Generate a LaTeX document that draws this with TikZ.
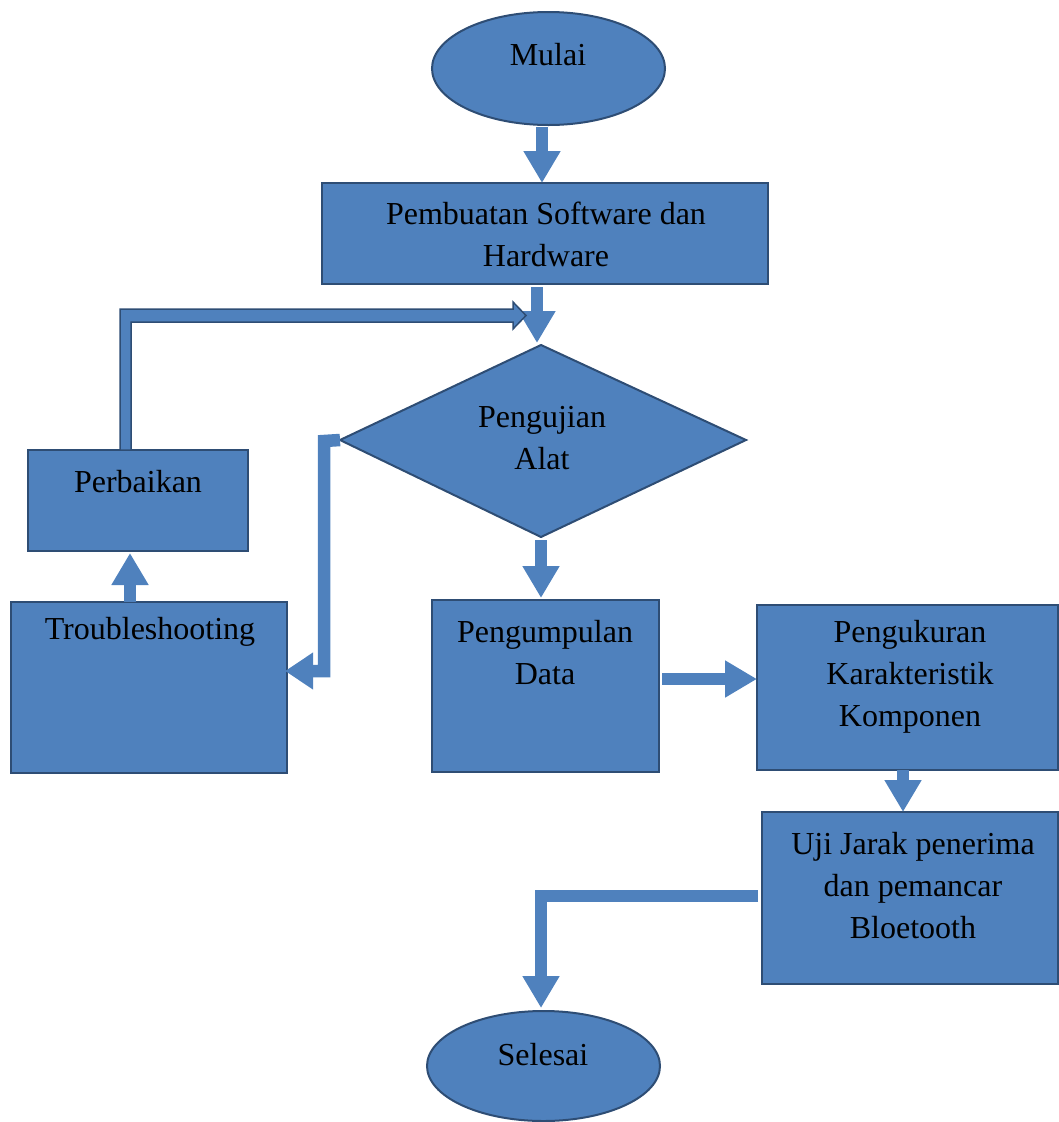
\documentclass[tikz,border=0pt]{standalone}
\usepackage{fontspec}
\setmainfont{Liberation Serif}
\usetikzlibrary{arrows.meta,shapes.geometric}
\definecolor{fillblue}{HTML}{4F81BD}
\definecolor{edgeblue}{HTML}{2E4D74}
\begin{document}
\begin{tikzpicture}[x=1pt,y=-1pt,
  shapebox/.style={draw=edgeblue,fill=fillblue,line width=2pt,rectangle,inner sep=0pt},
  shapeell/.style={draw=edgeblue,fill=fillblue,line width=2pt,ellipse,inner sep=0pt},
  lbl/.style={font=\fontsize{32}{42}\selectfont,align=center,inner sep=0pt,text=black},
  blk/.style={draw=fillblue,line width=12.5pt,line cap=butt,line join=miter,
    -{Triangle[width=35pt,length=32pt]}}]
\useasboundingbox (0,0) rectangle (1059,1122);
% shapes
\node[shapeell,minimum width=233pt,minimum height=113pt] (mulai) at (548.5,68.5) {};
\node[shapebox,minimum width=446pt,minimum height=101pt] (pemb) at (545,233.5) {};
\coordinate (dtop) at (541,345);
\coordinate (dright) at (746,440);
\coordinate (dbottom) at (541,537);
\coordinate (dleft) at (340,440);
\draw[draw=edgeblue,fill=fillblue,line width=2pt,line join=miter] (dtop) -- (dright) -- (dbottom) -- (dleft) -- cycle;
\node[shapebox,minimum width=220pt,minimum height=101pt] (perb) at (138,500.5) {};
\node[shapebox,minimum width=276pt,minimum height=171pt] (trouble) at (149,687.5) {};
\node[shapebox,minimum width=227pt,minimum height=172pt] (data) at (545.5,686) {};
\node[shapebox,minimum width=301pt,minimum height=165pt] (ukur) at (907.5,687.5) {};
\node[shapebox,minimum width=296pt,minimum height=172pt] (uji) at (910,898) {};
\node[shapeell,minimum width=233pt,minimum height=110pt] (selesai) at (543.5,1066) {};
% labels
\node[lbl] (tmulai) at (548,55) {Mulai};
\node[lbl] (tpemb) at (546,234) {Pembuatan Software dan\\Hardware};
\node[lbl] (tuji1) at (542,438) {Pengujian\\Alat};
\node[lbl] (tperb) at (138,482) {Perbaikan};
\node[lbl] (ttrouble) at (150,632) {Troubleshooting};
\node[lbl] (tdata) at (545,653) {Pengumpulan\\Data};
\node[lbl] (tukur) at (910,677) {Pengukuran\\Karakteristik\\Komponen};
\node[lbl] (tuji) at (913,886) {Uji Jarak penerima\\dan pemancar\\Bloetooth};
\node[lbl] (tsel) at (543,1055) {Selesai};
% connectors
\coordinate (a1s) at (542,127);
\coordinate (a1e) at (542,183);
\draw[blk] (a1s) -- (a1e);
\coordinate (a2s) at (537,287);
\coordinate (a2e) at (537,343);
\draw[blk] (a2s) -- (a2e);
\coordinate (a3s) at (541,540);
\coordinate (a3e) at (541,598);
\draw[blk] (a3s) -- (a3e);
\coordinate (a4s) at (662,679);
\coordinate (a4e) at (757,679);
\draw[blk] (a4s) -- (a4e);
\coordinate (a5s) at (903,770);
\coordinate (a5e) at (903,812);
\draw[blk] (a5s) -- (a5e);
\coordinate (a6s) at (758,896);
\coordinate (a6c) at (541,896);
\coordinate (a6e) at (541,1008);
\draw[blk] (a6s) -- (a6c) -- (a6e);
\coordinate (a7s) at (130,602);
\coordinate (a7e) at (130,553);
\draw[blk] (a7s) -- (a7e);
\coordinate (a8c1) at (324,441);
\coordinate (a8c2) at (324,671);
\coordinate (a8e) at (285,671);
\draw[blk,-{Triangle[width=35pt,length=28pt]}] (dleft) -- (a8c1) -- (a8c2) -- (a8e);
% feedback bent arrow (Perbaikan -> Pengujian)
\draw[draw=edgeblue,fill=fillblue,line width=1.5pt,line join=miter]
  (120,450) -- (120,309) -- (513,309) -- (513,302) -- (526,315.5) -- (513,329) -- (513,322) -- (131,322) -- (131,450) -- cycle;
\end{tikzpicture}
\end{document}
